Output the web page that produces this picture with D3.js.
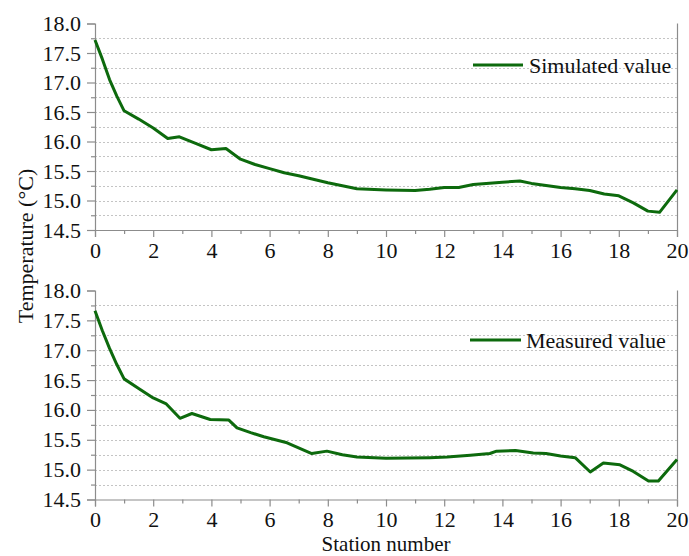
<!DOCTYPE html>
<html>
<head>
<meta charset="utf-8">
<script src="https://cdn.jsdelivr.net/npm/d3@7"></script>
<style>
  html, body { margin: 0; padding: 0; background: #fff; }
  svg text { font-family: "Liberation Serif", "Times New Roman", serif; fill: #111; }
</style>
</head>
<body>
<svg id="chart" width="689" height="556"></svg>
<script>
// ---- data ----
const simStation = [0, 0.25, 0.5, 0.75, 1, 1.5, 2, 2.5, 2.9, 3.5, 4, 4.5, 5, 5.5, 6, 6.5, 7, 7.5, 8, 8.5, 9, 10, 11, 11.5, 12, 12.5, 13, 14, 14.6, 15, 16, 16.5, 17, 17.5, 18, 18.5, 19, 19.4, 20];
const simTemp    = [17.72, 17.40, 17.05, 16.77, 16.52, 16.38, 16.23, 16.05, 16.08, 15.96, 15.86, 15.88, 15.70, 15.61, 15.54, 15.47, 15.42, 15.36, 15.30, 15.25, 15.20, 15.18, 15.17, 15.19, 15.22, 15.22, 15.27, 15.31, 15.33, 15.29, 15.22, 15.20, 15.17, 15.11, 15.08, 14.96, 14.82, 14.80, 15.18];

const measStation = [0, 0.25, 0.5, 0.75, 1, 1.5, 2, 2.45, 2.92, 3.33, 3.96, 4.6, 4.88, 5.35, 5.8, 6.6, 7.45, 7.97, 8.5, 9, 10, 11.5, 12.1, 12.9, 13.57, 13.8, 14.45, 15.06, 15.5, 16, 16.5, 17.02, 17.47, 18.04, 18.5, 19.02, 19.36, 20];
const measTemp    = [17.66, 17.33, 17.03, 16.76, 16.52, 16.36, 16.20, 16.10, 15.86, 15.94, 15.84, 15.83, 15.70, 15.62, 15.55, 15.45, 15.27, 15.31, 15.25, 15.21, 15.19, 15.20, 15.21, 15.24, 15.27, 15.31, 15.32, 15.28, 15.27, 15.23, 15.20, 14.96, 15.11, 15.08, 14.97, 14.81, 14.81, 15.17];

const xMajorTicks = [0, 2, 4, 6, 8, 10, 12, 14, 16, 18, 20];
const xMinorTicks = [1, 3, 5, 7, 9, 11, 13, 15, 17, 19];
const yMajorTicks = [14.5, 15.0, 15.5, 16.0, 16.5, 17.0, 17.5, 18.0];
const yMinorTicks = [14.75, 15.25, 15.75, 16.25, 16.75, 17.25, 17.75];

const seriesNames = ["Simulated value", "Measured value"];
const xTitle = "Station number";
const yTitle = "Temperature (°C)";

// ---- layout ----
const svg = d3.select("#chart");
const serif = '"Liberation Serif", "Times New Roman", serif';
const lineColor = "#0d6a0d";
const axisColor = "#8c8c8c";
const gridColor = "#c4c4c4";
const fontSize = 22;

const x = d3.scaleLinear().domain([0, 20]).range([95, 677]);

const panels = [
  { name: seriesNames[0], xs: simStation, ys: simTemp, yRange: [230, 23.5], legY: 65, legX1: 473, legX2: 523, legTextX: 529 },
  { name: seriesNames[1], xs: measStation, ys: measTemp, yRange: [499.5, 290.5], legY: 340, legX1: 470, legX2: 521, legTextX: 526 }
];

panels.forEach(p => {
  const y = d3.scaleLinear().domain([14.5, 18]).range(p.yRange);
  const g = svg.append("g");

  // dotted grid lines at every 0.25 (except axis and top)
  const gridVals = yMajorTicks.concat(yMinorTicks).filter(v => v > 14.5 && v < 18);
  g.selectAll("line.grid").data(gridVals).enter().append("line")
    .attr("x1", x(0)).attr("x2", x(20))
    .attr("y1", d => Math.round(y(d)) + 0.5).attr("y2", d => Math.round(y(d)) + 0.5)
    .attr("stroke", gridColor).attr("stroke-width", 1).attr("stroke-dasharray", "2,2");

  // right border
  g.append("line")
    .attr("x1", x(20) + 0.5).attr("x2", x(20) + 0.5)
    .attr("y1", y(18)).attr("y2", y(14.5))
    .attr("stroke", axisColor).attr("stroke-width", 1.2);

  // y axis
  const yAxis = d3.axisLeft(y).tickValues(yMajorTicks).tickFormat(d3.format(".1f")).tickSize(8).tickPadding(6);
  const ya = g.append("g").attr("transform", `translate(${x(0)},0)`).call(yAxis);
  const yAxisMinor = d3.axisLeft(y).tickValues(yMinorTicks).tickFormat("").tickSize(4);
  const yam = g.append("g").attr("transform", `translate(${x(0)},0)`).call(yAxisMinor);

  // x axis
  const xAxis = d3.axisBottom(x).tickValues(xMajorTicks).tickFormat(d3.format("d")).tickSize(7).tickPadding(5);
  const xa = g.append("g").attr("transform", `translate(0,${y(14.5)})`).call(xAxis);
  const xAxisMinor = d3.axisBottom(x).tickValues(xMinorTicks).tickFormat("").tickSize(4);
  const xam = g.append("g").attr("transform", `translate(0,${y(14.5)})`).call(xAxisMinor);

  [ya, yam, xa, xam].forEach(a => {
    a.attr("font-family", serif).attr("font-size", fontSize);
    a.select(".domain").attr("stroke", axisColor).attr("stroke-width", 1.2);
    a.selectAll(".tick line").attr("stroke", axisColor).attr("stroke-width", 1.2);
    a.selectAll(".tick text")
      .style("font-family", serif)
      .style("font-size", fontSize + "px").attr("fill", "#111");
  });
  [yam, xam].forEach(a => a.select(".domain").remove());

  // data line
  const pts = p.xs.map((v, i) => [v, p.ys[i]]);
  g.append("path")
    .datum(pts)
    .attr("fill", "none")
    .attr("stroke", lineColor)
    .attr("stroke-width", 3)
    .attr("stroke-linejoin", "round")
    .attr("d", d3.line().x(d => x(d[0])).y(d => y(d[1])));

  // legend
  g.append("line")
    .attr("x1", p.legX1).attr("x2", p.legX2)
    .attr("y1", p.legY).attr("y2", p.legY)
    .attr("stroke", lineColor).attr("stroke-width", 3);
  g.append("text")
    .attr("x", p.legTextX).attr("y", p.legY + 7.5)
    .style("font-size", fontSize + "px")
    .text(p.name);
});

// axis titles
svg.append("text")
  .attr("transform", "translate(33,246) rotate(-90)")
  .attr("text-anchor", "middle")
  .style("font-size", fontSize + "px")
  .text(yTitle);

svg.append("text")
  .attr("x", 386).attr("y", 551)
  .attr("text-anchor", "middle")
  .style("font-size", "21px")
  .text(xTitle);
</script>
</body>
</html>
